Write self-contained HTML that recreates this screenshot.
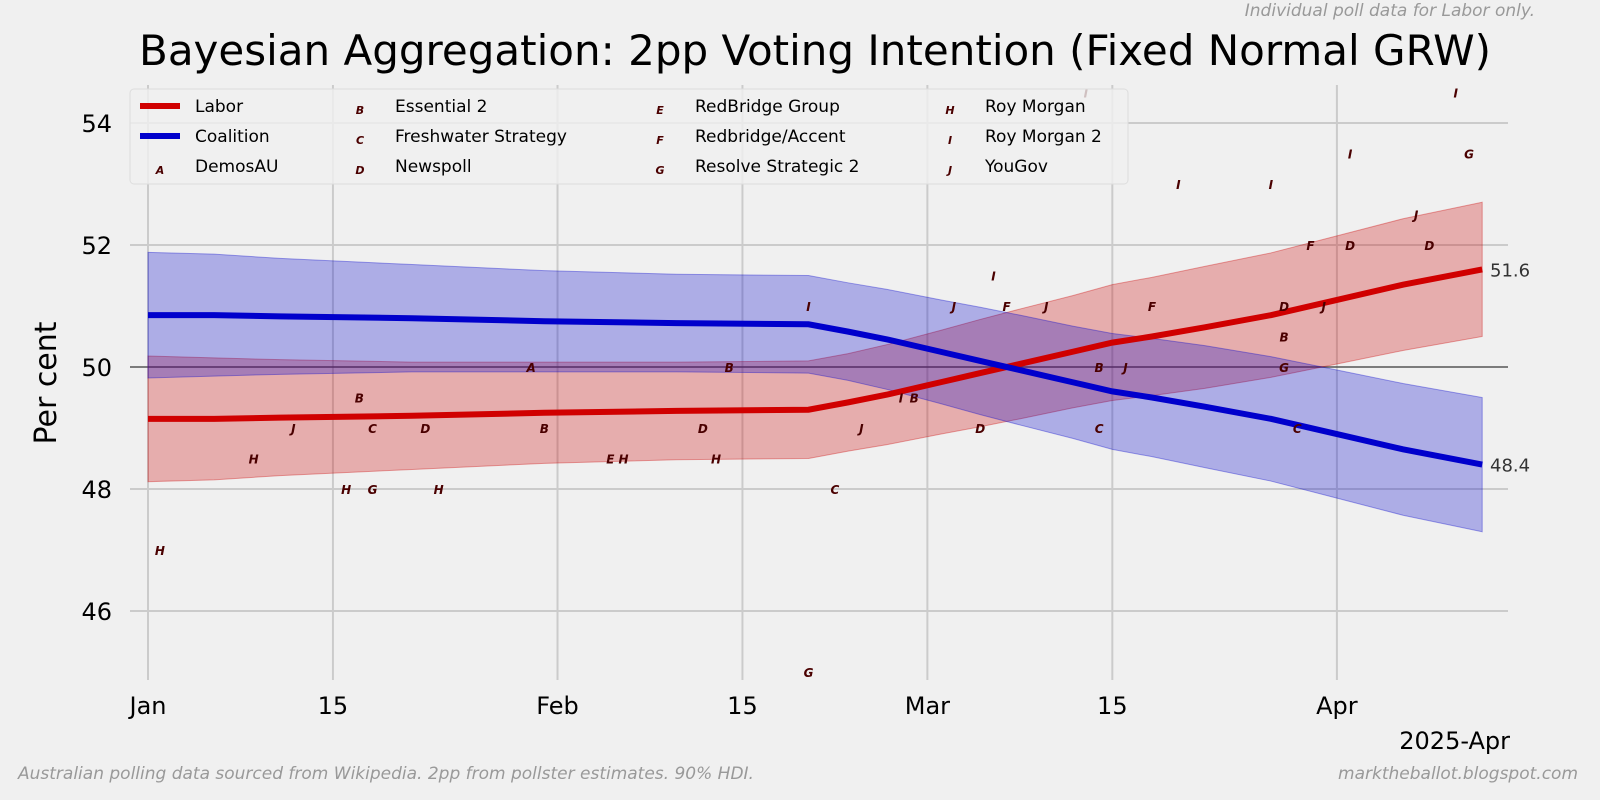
<!DOCTYPE html>
<html><head><meta charset="utf-8"><style>
body{margin:0;background:#f0f0f0}
svg{display:block;font-family:"DejaVu Sans","Liberation Sans",sans-serif}
</style></head><body>
<svg id="c" width="1600" height="800">
<rect width="1600" height="800" fill="#f0f0f0"/>
<g id="grid"></g><g id="bands"></g><g id="lines"></g><g id="polls"></g><g id="axes"></g>
<text x="815" y="65" font-size="42" text-anchor="middle">Bayesian Aggregation: 2pp Voting Intention (Fixed Normal GRW)</text>
<text x="1535" y="16" font-size="17" font-style="italic" fill="#999" text-anchor="end">Individual poll data for Labor only.</text>
<text transform="translate(56,383) rotate(-90)" font-size="30" text-anchor="middle">Per cent</text>
<text x="1510" y="749" font-size="24" text-anchor="end">2025-Apr</text>
<text x="18" y="779" font-size="17" font-style="italic" fill="#999">Australian polling data sourced from Wikipedia. 2pp from pollster estimates. 90% HDI.</text>
<text x="1578" y="779" font-size="17" font-style="italic" fill="#999" text-anchor="end">marktheballot.blogspot.com</text>
<g id="legend"></g>
</svg>
<script>
const days=[0,5,10,20,30,40,50,53,56,60,63,66,70,73,76,80,85,90,95,101];
const labor=[49.15,49.15,49.17,49.2,49.25,49.28,49.3,49.42,49.55,49.75,49.9,50.05,50.25,50.4,50.5,50.65,50.85,51.1,51.35,51.6];
const halfw=[1.03,1.0,0.95,0.88,0.83,0.8,0.8,0.8,0.82,0.85,0.88,0.9,0.92,0.95,0.97,1.0,1.02,1.05,1.08,1.1];
const pollLetters=["H","H","J","B","C","D","H","G","H","A","B","E","H","D","H","B","I","C","J","I","B","D","J","I","F","J","I","B","J","C","F","I","I","D","B","G","C","J","F","D","I","J","D","I","G","G"];
const pollDays=[0.9,8,11,16,17,21,15,17,22,29,30,35,36,42,43,44,50,52,54,57,58,63,61,64,65,68,71,72,74,72,76,78,85,86,86,86,87,89,88,91,91,96,97,99,100,50];
const pollVals=[47,48.5,49,49.5,49,49,48,48,48,50,49,48.5,48.5,49,48.5,50,51,48,49,49.5,49.5,49,51,51.5,51,51,54.5,50,50,49,51,53,53,51,50.5,50,49,51,52,52,53.5,52.5,52,54.5,53.5,45];
const xTicks=[0,14,31,45,59,73,90];
const xLabels=["Jan","15","Feb","15","Mar","15","Apr"];
const yTicks=[46,48,50,52,54];
const NS="http://www.w3.org/2000/svg";
const X=d=>148+d*13.21, Y=v=>367-(v-50)*61;
function mk(p,t,a){const e=document.createElementNS(NS,t);for(const k in a)e.setAttribute(k,a[k]);p.appendChild(e);return e;}
const G=id=>document.getElementById(id);
xTicks.forEach((d,i)=>{
 const l=mk(G('grid'),'line',{x1:X(d),x2:X(d),y1:85,y2:680,stroke:'#cbcbcb','stroke-width':2});
 
 
 const t=mk(G('axes'),'text',{x:X(d),y:714,'font-size':24,'text-anchor':'middle'});t.textContent=xLabels[i];
 
 
});
yTicks.forEach(v=>{
 const l=mk(G('grid'),'line',{x1:130,x2:1508,y1:Y(v),y2:Y(v),stroke:v==50?'#555':'#cbcbcb','stroke-width':v==50?1.5:2});
 
 
 const t=mk(G('axes'),'text',{x:112,y:Y(v)+9,'font-size':24,'text-anchor':'end'});t.textContent=v;
 
 
});
function band(sign,fill,stroke,name){
 const val=i=>sign>0?labor[i]:100-labor[i];
 let d=days.map((dd,i)=>(i?'L':'M')+X(dd)+','+Y(val(i)+halfw[i])).join('');
 for(let i=days.length-1;i>=0;i--)d+='L'+X(days[i])+','+Y(val(i)-halfw[i]);
 const p=mk(G('bands'),'path',{d:d+'Z',fill:fill,'fill-opacity':0.28,stroke:stroke,'stroke-opacity':0.35});
 
 
}
band(1,'#cc0000','#cc0000','labor-band');
band(-1,'#0000cc','#0000cc','coalition-band');
function line(sign,col,name){
 const d=days.map((dd,i)=>(i?'L':'M')+X(dd)+','+Y(sign>0?labor[i]:100-labor[i])).join('');
 const p=mk(G('lines'),'path',{d:d,fill:'none',stroke:col,'stroke-width':6});
 
 
}
line(1,'#d00000','labor-line');line(-1,'#0000cc','coalition-line');
const n=labor.length-1;
[[labor[n],'labor-end-label'],[100-labor[n],'coalition-end-label']].forEach(([v,nm])=>{
 const t=mk(G('axes'),'text',{x:1490,y:Y(v)+7,'font-size':18,fill:'#333'});t.textContent=v.toFixed(1);
 
 
});
pollLetters.forEach((c,i)=>{
 const t=mk(G('polls'),'text',{x:X(pollDays[i]),y:Y(pollVals[i])+5,'font-size':12,'font-weight':'bold','font-style':'italic',fill:'#4a0000','text-anchor':'middle'});
 t.textContent=c;
 
 
});
const L=G('legend');
mk(L,'rect',{x:130,y:89,width:998,height:95,rx:4,fill:'#f0f0f0','fill-opacity':0.8,stroke:'#ddd'});
const entries=[["line","#d00000","Labor"],["line","#0000cc","Coalition"],["A","","DemosAU"],["B","","Essential 2"],["C","","Freshwater Strategy"],["D","","Newspoll"],["E","","RedBridge Group"],["F","","Redbridge/Accent"],["G","","Resolve Strategic 2"],["H","","Roy Morgan"],["I","","Roy Morgan 2"],["J","","YouGov"]];
const colX=[140,340,640,930];
entries.forEach((e,i)=>{
 const cx=colX[Math.floor(i/3)],cy=106+(i%3)*30;
 const g=mk(L,'g',{});
 
 
 if(e[0]=='line')mk(g,'line',{x1:cx,x2:cx+40,y1:cy,y2:cy,stroke:e[1],'stroke-width':6});
 else{const m=mk(g,'text',{x:cx+20,y:cy+8,'font-size':11,'font-weight':'bold','font-style':'italic',fill:'#4a0000','text-anchor':'middle'});m.textContent=e[0];}
 const t=mk(g,'text',{x:cx+55,y:cy+6,'font-size':17});t.textContent=e[2];
});
</script>
</body></html>
